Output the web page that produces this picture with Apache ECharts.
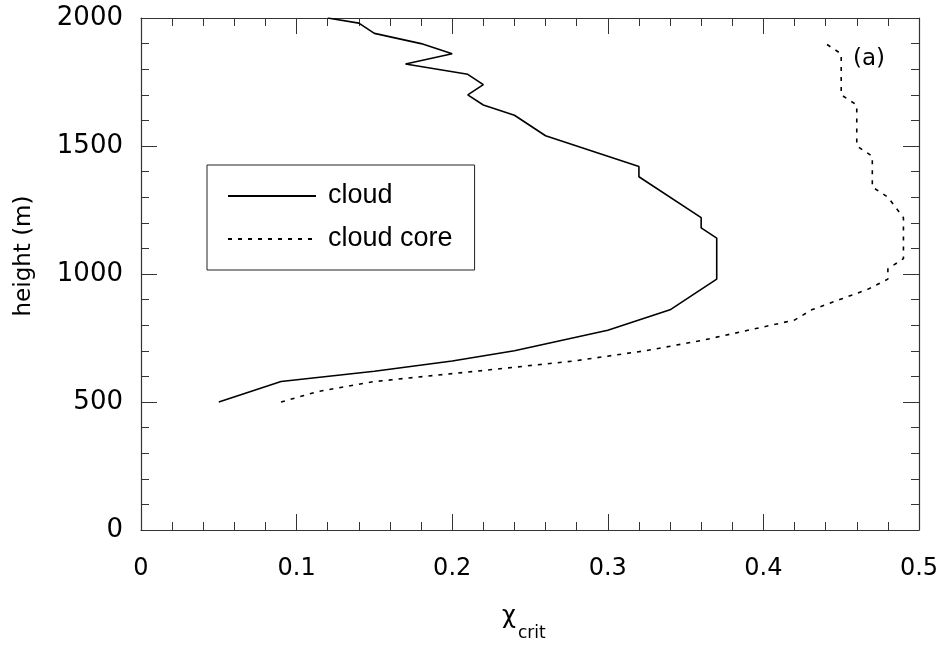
<!DOCTYPE html>
<html>
<head>
<meta charset="utf-8">
<title>Critical mixing fraction profile</title>
<script src="https://cdn.jsdelivr.net/npm/echarts@6/dist/echarts.min.js"></script>
<style>
  html, body { margin: 0; padding: 0; background: #fff; }
  #chart { width: 948px; height: 647px; }
</style>
</head>
<body>
<div id="chart"></div>
<script>
// Critical mixing fraction (chi_crit) versus height, whole cloud and cloud core
const cloudHeight = [500, 580, 620, 660, 700, 780, 860, 980, 1140, 1180, 1220, 1380, 1420, 1540, 1620, 1660, 1700, 1740, 1780, 1820, 1860, 1900, 1940, 1980, 2000];
const cloudChi    = [0.05, 0.09, 0.15, 0.20, 0.24, 0.30, 0.34, 0.37, 0.37, 0.36, 0.36, 0.32, 0.32, 0.26, 0.24, 0.22, 0.21, 0.22, 0.21, 0.17, 0.20, 0.18, 0.15, 0.14, 0.12];

const coreHeight = [500, 540, 580, 620, 660, 700, 740, 780, 820, 860, 900, 940, 980, 1020, 1060, 1220, 1300, 1340, 1460, 1500, 1660, 1700, 1860, 1900];
const coreChi    = [0.09, 0.113, 0.15, 0.215, 0.278, 0.324, 0.36, 0.39, 0.42, 0.431, 0.449, 0.467, 0.48, 0.48, 0.49, 0.49, 0.48, 0.47, 0.47, 0.46, 0.46, 0.45, 0.45, 0.44];

const seriesNames = ['cloud', 'cloud core'];
const panelLabel = '(a)';
const xTitle = 'χ';
const xTitleSub = 'crit';
const yTitle = 'height (m)';

const pairs = (xs, ys) => xs.map((x, i) => [x, ys[i]]);

const frameColor = '#333';
const tickFont = 'DejaVu Sans';

function frameAxis(extra) {
  return Object.assign({
    type: 'value',
    axisLine: { show: true, onZero: false, lineStyle: { color: frameColor, width: 1.2 } },
    axisTick: { show: true, inside: true, length: 16, lineStyle: { color: frameColor, width: 1 } },
    minorTick: { show: true, splitNumber: 5, length: 8, lineStyle: { color: frameColor, width: 1 } },
    splitLine: { show: false },
    minorSplitLine: { show: false }
  }, extra);
}

const chart = echarts.init(document.getElementById('chart'), null, { renderer: 'canvas' });

chart.setOption({
  animation: false,
  backgroundColor: '#fff',
  grid: { left: 141, right: 29, top: 18, bottom: 117, containLabel: false },
  xAxis: [
    frameAxis({
      position: 'bottom', min: 0, max: 0.5, interval: 0.1,
      axisLabel: { show: true, margin: 27, color: '#000', fontFamily: tickFont, fontSize: 24,
                   formatter: v => String(+(+v).toFixed(1)) }
    }),
    frameAxis({
      position: 'top', min: 0, max: 0.5, interval: 0.1,
      axisLabel: { show: false }
    })
  ],
  yAxis: [
    frameAxis({
      position: 'left', min: 0, max: 2000, interval: 500,
      axisLabel: { show: true, margin: 18, color: '#000', fontFamily: tickFont, fontSize: 26,
                   formatter: v => String(Math.round(v)) }
    }),
    frameAxis({
      position: 'right', min: 0, max: 2000, interval: 500,
      axisLabel: { show: false }
    })
  ],
  legend: {
    orient: 'vertical',
    left: 207, top: 165,
    padding: [16, 22, 16, 20],
    itemGap: 13,
    itemWidth: 88,
    itemHeight: 20,
    borderColor: '#222',
    borderWidth: 1,
    selectedMode: false,
    data: seriesNames,
    // legend keys show only the line pattern, no marker
    itemStyle: { color: 'rgba(0,0,0,0)', borderColor: 'rgba(0,0,0,0)', borderWidth: 0, opacity: 0 },
    textStyle: { color: '#000', fontFamily: 'Liberation Sans', fontSize: 27, lineHeight: 30, padding: [0, 0, 0, 7] }
  },
  series: [
    {
      name: seriesNames[0],
      type: 'line',
      data: pairs(cloudChi, cloudHeight),
      symbol: 'none',
      clip: true,
      lineStyle: { color: '#000', width: 1.6, type: 'solid' },
      itemStyle: { color: '#000' }
    },
    {
      name: seriesNames[1],
      type: 'line',
      data: pairs(coreChi, coreHeight),
      symbol: 'none',
      clip: true,
      lineStyle: { color: '#000', width: 1.6, type: [4, 6] },
      itemStyle: { color: '#000' }
    }
  ],
  graphic: [
    {
      type: 'text', x: 853, y: 59,
      style: { text: panelLabel, fill: '#000', font: '23px "DejaVu Sans"',
               align: 'left', verticalAlign: 'middle', textAlign: 'left', textVerticalAlign: 'middle' }
    },
    {
      type: 'text', x: 502, y: 617,
      style: { text: xTitle, fill: '#000', font: '24px "DejaVu Sans"',
               align: 'left', verticalAlign: 'middle', textAlign: 'left', textVerticalAlign: 'middle' }
    },
    {
      type: 'text', x: 518, y: 634,
      style: { text: xTitleSub, fill: '#000', font: '17px "DejaVu Sans"',
               align: 'left', verticalAlign: 'middle', textAlign: 'left', textVerticalAlign: 'middle' }
    },
    {
      type: 'text', x: 24, y: 256, rotation: Math.PI / 2,
      style: { text: yTitle, fill: '#000', font: '23px "DejaVu Sans"',
               align: 'center', verticalAlign: 'middle', textAlign: 'center', textVerticalAlign: 'middle' }
    }
  ]
});
</script>
</body>
</html>
